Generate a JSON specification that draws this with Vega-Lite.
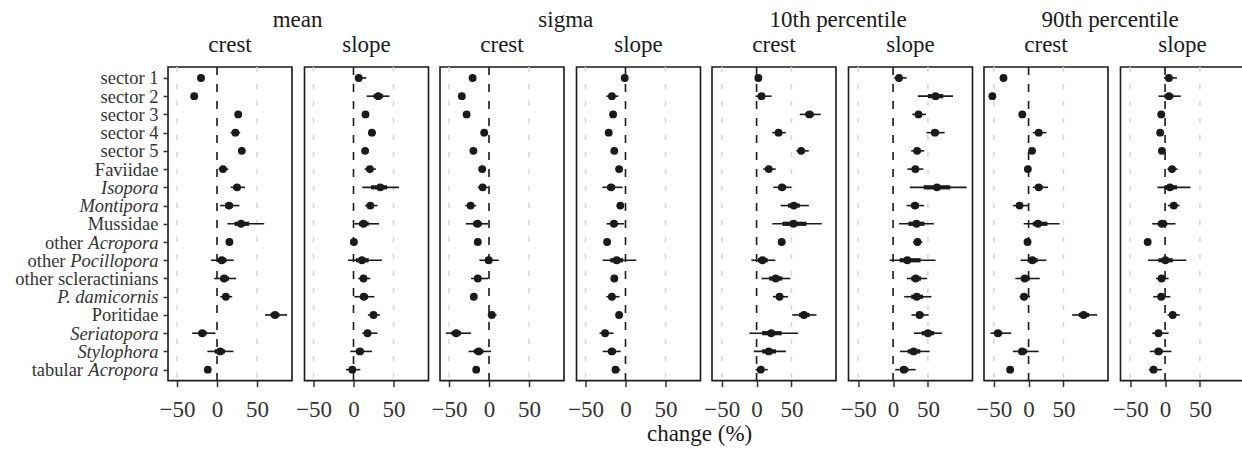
{
"$schema":"https://vega.github.io/schema/vega-lite/v6.json",
"padding":{"left":13,"top":8,"right":0,"bottom":0},
"background":"white",
"title":{"text":"change (%)","orient":"bottom","anchor":"middle","fontSize":23,"offset":1,"dx":70},
"data":{"values":[
{"stat":"mean","zone":"crest","group":"sector 1","est":-20,"lo95":-23,"hi95":-17,"lo50":-21.5,"hi50":-18.5},
{"stat":"mean","zone":"crest","group":"sector 2","est":-28.5,"lo95":-31,"hi95":-26,"lo50":-29.5,"hi50":-27.5},
{"stat":"mean","zone":"crest","group":"sector 3","est":26.5,"lo95":23,"hi95":30,"lo50":25,"hi50":28},
{"stat":"mean","zone":"crest","group":"sector 4","est":23,"lo95":17,"hi95":29,"lo50":20.5,"hi50":25.5},
{"stat":"mean","zone":"crest","group":"sector 5","est":31,"lo95":28,"hi95":34,"lo50":29.5,"hi50":32.5},
{"stat":"mean","zone":"crest","group":"Faviidae","est":7.5,"lo95":2,"hi95":14,"lo50":5,"hi50":10},
{"stat":"mean","zone":"crest","group":"Isopora","est":25,"lo95":17,"hi95":35,"lo50":21,"hi50":29},
{"stat":"mean","zone":"crest","group":"Montipora","est":15,"lo95":4,"hi95":28,"lo50":10,"hi50":20},
{"stat":"mean","zone":"crest","group":"Mussidae","est":30,"lo95":13,"hi95":59,"lo50":22,"hi50":40},
{"stat":"mean","zone":"crest","group":"other Acropora","est":15.5,"lo95":13,"hi95":18,"lo50":14.5,"hi50":16.5},
{"stat":"mean","zone":"crest","group":"other Pocillopora","est":6,"lo95":-7.5,"hi95":21,"lo50":1,"hi50":12},
{"stat":"mean","zone":"crest","group":"other scleractinians","est":9,"lo95":-3.5,"hi95":24,"lo50":4,"hi50":15},
{"stat":"mean","zone":"crest","group":"P. damicornis","est":11,"lo95":4,"hi95":19,"lo50":8,"hi50":14},
{"stat":"mean","zone":"crest","group":"Poritidae","est":72.5,"lo95":60,"hi95":87.5,"lo50":67,"hi50":78},
{"stat":"mean","zone":"crest","group":"Seriatopora","est":-18.5,"lo95":-31,"hi95":-2,"lo50":-23,"hi50":-13},
{"stat":"mean","zone":"crest","group":"Stylophora","est":4,"lo95":-12,"hi95":20.5,"lo50":-3,"hi50":10},
{"stat":"mean","zone":"crest","group":"tabular Acropora","est":-11.5,"lo95":-14,"hi95":-9,"lo50":-12.5,"hi50":-10.5},
{"stat":"mean","zone":"slope","group":"sector 1","est":6.5,"lo95":2,"hi95":16,"lo50":4,"hi50":10},
{"stat":"mean","zone":"slope","group":"sector 2","est":31,"lo95":16.5,"hi95":45,"lo50":25,"hi50":37},
{"stat":"mean","zone":"slope","group":"sector 3","est":15,"lo95":10.5,"hi95":19,"lo50":13,"hi50":17},
{"stat":"mean","zone":"slope","group":"sector 4","est":23,"lo95":18,"hi95":28,"lo50":21,"hi50":25},
{"stat":"mean","zone":"slope","group":"sector 5","est":14.5,"lo95":11.5,"hi95":17.5,"lo50":13,"hi50":16},
{"stat":"mean","zone":"slope","group":"Faviidae","est":20.5,"lo95":14,"hi95":28,"lo50":17.5,"hi50":23.5},
{"stat":"mean","zone":"slope","group":"Isopora","est":33.5,"lo95":11,"hi95":57,"lo50":22,"hi50":42},
{"stat":"mean","zone":"slope","group":"Montipora","est":21,"lo95":14.5,"hi95":30,"lo50":18,"hi50":24.5},
{"stat":"mean","zone":"slope","group":"Mussidae","est":12.5,"lo95":1,"hi95":32,"lo50":7,"hi50":19},
{"stat":"mean","zone":"slope","group":"other Acropora","est":0.5,"lo95":-1.5,"hi95":3,"lo50":0,"hi50":1.5},
{"stat":"mean","zone":"slope","group":"other Pocillopora","est":10.5,"lo95":-7,"hi95":35.5,"lo50":3,"hi50":19},
{"stat":"mean","zone":"slope","group":"other scleractinians","est":12.5,"lo95":6,"hi95":21,"lo50":9.5,"hi50":16},
{"stat":"mean","zone":"slope","group":"P. damicornis","est":13,"lo95":1,"hi95":26,"lo50":8,"hi50":18},
{"stat":"mean","zone":"slope","group":"Poritidae","est":25,"lo95":18,"hi95":33,"lo50":21.5,"hi50":28.5},
{"stat":"mean","zone":"slope","group":"Seriatopora","est":17.5,"lo95":11,"hi95":30,"lo50":14,"hi50":22},
{"stat":"mean","zone":"slope","group":"Stylophora","est":8,"lo95":-4,"hi95":23,"lo50":3,"hi50":13},
{"stat":"mean","zone":"slope","group":"tabular Acropora","est":-1.5,"lo95":-9.5,"hi95":8.5,"lo50":-5,"hi50":2.5},
{"stat":"sigma","zone":"crest","group":"sector 1","est":-20.5,"lo95":-23,"hi95":-18,"lo50":-21.5,"hi50":-19.5},
{"stat":"sigma","zone":"crest","group":"sector 2","est":-34,"lo95":-37,"hi95":-31.5,"lo50":-35,"hi50":-33},
{"stat":"sigma","zone":"crest","group":"sector 3","est":-28,"lo95":-30.5,"hi95":-25.5,"lo50":-29,"hi50":-27},
{"stat":"sigma","zone":"crest","group":"sector 4","est":-6,"lo95":-10,"hi95":-2,"lo50":-8,"hi50":-4},
{"stat":"sigma","zone":"crest","group":"sector 5","est":-19.5,"lo95":-22,"hi95":-17,"lo50":-20.5,"hi50":-18.5},
{"stat":"sigma","zone":"crest","group":"Faviidae","est":-8.5,"lo95":-11,"hi95":-6,"lo50":-9.5,"hi50":-7.5},
{"stat":"sigma","zone":"crest","group":"Isopora","est":-8,"lo95":-14,"hi95":-1.5,"lo50":-11,"hi50":-5},
{"stat":"sigma","zone":"crest","group":"Montipora","est":-23,"lo95":-29.5,"hi95":-16,"lo50":-26,"hi50":-20},
{"stat":"sigma","zone":"crest","group":"Mussidae","est":-14.5,"lo95":-29,"hi95":-1,"lo50":-20,"hi50":-9},
{"stat":"sigma","zone":"crest","group":"other Acropora","est":-14,"lo95":-16.5,"hi95":-11.5,"lo50":-15,"hi50":-13},
{"stat":"sigma","zone":"crest","group":"other Pocillopora","est":-0.5,"lo95":-12,"hi95":12,"lo50":-5,"hi50":4},
{"stat":"sigma","zone":"crest","group":"other scleractinians","est":-14,"lo95":-22.5,"hi95":-1,"lo50":-18,"hi50":-10},
{"stat":"sigma","zone":"crest","group":"P. damicornis","est":-19,"lo95":-21.5,"hi95":-16.5,"lo50":-20,"hi50":-18},
{"stat":"sigma","zone":"crest","group":"Poritidae","est":3.5,"lo95":-1.5,"hi95":9.5,"lo50":1,"hi50":6},
{"stat":"sigma","zone":"crest","group":"Seriatopora","est":-41,"lo95":-54,"hi95":-22.5,"lo50":-47,"hi50":-35},
{"stat":"sigma","zone":"crest","group":"Stylophora","est":-13,"lo95":-25.5,"hi95":2.5,"lo50":-19,"hi50":-7},
{"stat":"sigma","zone":"crest","group":"tabular Acropora","est":-16,"lo95":-18.5,"hi95":-13.5,"lo50":-17,"hi50":-15},
{"stat":"sigma","zone":"slope","group":"sector 1","est":-1,"lo95":-3,"hi95":1,"lo50":-2,"hi50":0},
{"stat":"sigma","zone":"slope","group":"sector 2","est":-17,"lo95":-24,"hi95":-9,"lo50":-20,"hi50":-14},
{"stat":"sigma","zone":"slope","group":"sector 3","est":-15.5,"lo95":-18,"hi95":-13,"lo50":-16.5,"hi50":-14.5},
{"stat":"sigma","zone":"slope","group":"sector 4","est":-21,"lo95":-23.5,"hi95":-18.5,"lo50":-22,"hi50":-20},
{"stat":"sigma","zone":"slope","group":"sector 5","est":-14,"lo95":-16.5,"hi95":-11.5,"lo50":-15,"hi50":-13},
{"stat":"sigma","zone":"slope","group":"Faviidae","est":-8,"lo95":-10.5,"hi95":-5.5,"lo50":-9,"hi50":-7},
{"stat":"sigma","zone":"slope","group":"Isopora","est":-18,"lo95":-29,"hi95":-3.5,"lo50":-23,"hi50":-13},
{"stat":"sigma","zone":"slope","group":"Montipora","est":-6.5,"lo95":-9,"hi95":-4,"lo50":-7.5,"hi50":-5.5},
{"stat":"sigma","zone":"slope","group":"Mussidae","est":-14.5,"lo95":-23.5,"hi95":-2,"lo50":-18.5,"hi50":-10},
{"stat":"sigma","zone":"slope","group":"other Acropora","est":-23,"lo95":-25.5,"hi95":-20.5,"lo50":-24,"hi50":-22},
{"stat":"sigma","zone":"slope","group":"other Pocillopora","est":-11,"lo95":-28.5,"hi95":13.5,"lo50":-19,"hi50":-3},
{"stat":"sigma","zone":"slope","group":"other scleractinians","est":-14,"lo95":-16.5,"hi95":-11.5,"lo50":-15,"hi50":-13},
{"stat":"sigma","zone":"slope","group":"P. damicornis","est":-17,"lo95":-24,"hi95":-7.5,"lo50":-20.5,"hi50":-13.5},
{"stat":"sigma","zone":"slope","group":"Poritidae","est":-8,"lo95":-10.5,"hi95":-5.5,"lo50":-9,"hi50":-7},
{"stat":"sigma","zone":"slope","group":"Seriatopora","est":-25.5,"lo95":-32.5,"hi95":-15,"lo50":-29,"hi50":-22},
{"stat":"sigma","zone":"slope","group":"Stylophora","est":-17,"lo95":-28.5,"hi95":-6,"lo50":-22,"hi50":-12},
{"stat":"sigma","zone":"slope","group":"tabular Acropora","est":-12.5,"lo95":-16,"hi95":-6.5,"lo50":-14,"hi50":-10.5},
{"stat":"p10","zone":"crest","group":"sector 1","est":2.5,"lo95":-1,"hi95":6.5,"lo50":1,"hi50":4},
{"stat":"p10","zone":"crest","group":"sector 2","est":7,"lo95":-1.5,"hi95":21.5,"lo50":3,"hi50":12},
{"stat":"p10","zone":"crest","group":"sector 3","est":76,"lo95":62,"hi95":92,"lo50":70,"hi50":82},
{"stat":"p10","zone":"crest","group":"sector 4","est":31.5,"lo95":22.5,"hi95":42,"lo50":27,"hi50":36},
{"stat":"p10","zone":"crest","group":"sector 5","est":64,"lo95":57,"hi95":75,"lo50":60.5,"hi50":68.5},
{"stat":"p10","zone":"crest","group":"Faviidae","est":17.5,"lo95":9.5,"hi95":27.5,"lo50":14,"hi50":21.5},
{"stat":"p10","zone":"crest","group":"Isopora","est":36.5,"lo95":24,"hi95":50,"lo50":31,"hi50":42.5},
{"stat":"p10","zone":"crest","group":"Montipora","est":53.5,"lo95":34.5,"hi95":75,"lo50":45,"hi50":62},
{"stat":"p10","zone":"crest","group":"Mussidae","est":53,"lo95":22.5,"hi95":93.5,"lo50":37,"hi50":71.5},
{"stat":"p10","zone":"crest","group":"other Acropora","est":36,"lo95":31,"hi95":41.5,"lo50":34,"hi50":38.5},
{"stat":"p10","zone":"crest","group":"other Pocillopora","est":8.5,"lo95":-7.5,"hi95":27,"lo50":2,"hi50":16},
{"stat":"p10","zone":"crest","group":"other scleractinians","est":27.5,"lo95":7,"hi95":48.5,"lo50":18,"hi50":37},
{"stat":"p10","zone":"crest","group":"P. damicornis","est":33,"lo95":23.5,"hi95":45,"lo50":29,"hi50":38},
{"stat":"p10","zone":"crest","group":"Poritidae","est":68,"lo95":51,"hi95":86,"lo50":61,"hi50":76},
{"stat":"p10","zone":"crest","group":"Seriatopora","est":21,"lo95":-10.5,"hi95":59.5,"lo50":8,"hi50":36},
{"stat":"p10","zone":"crest","group":"Stylophora","est":17.5,"lo95":-4,"hi95":42,"lo50":8,"hi50":28},
{"stat":"p10","zone":"crest","group":"tabular Acropora","est":6,"lo95":-1.5,"hi95":16,"lo50":2.5,"hi50":10},
{"stat":"p10","zone":"slope","group":"sector 1","est":8.5,"lo95":1.5,"hi95":19.5,"lo50":5,"hi50":13},
{"stat":"p10","zone":"slope","group":"sector 2","est":61,"lo95":35.5,"hi95":86,"lo50":50,"hi50":72},
{"stat":"p10","zone":"slope","group":"sector 3","est":36.5,"lo95":27.5,"hi95":47,"lo50":32.5,"hi50":41},
{"stat":"p10","zone":"slope","group":"sector 4","est":60,"lo95":48,"hi95":74,"lo50":55,"hi50":66},
{"stat":"p10","zone":"slope","group":"sector 5","est":34.5,"lo95":26,"hi95":44.5,"lo50":30.5,"hi50":39},
{"stat":"p10","zone":"slope","group":"Faviidae","est":32,"lo95":20.5,"hi95":43.5,"lo50":27,"hi50":37},
{"stat":"p10","zone":"slope","group":"Isopora","est":63,"lo95":24,"hi95":105.5,"lo50":44,"hi50":82},
{"stat":"p10","zone":"slope","group":"Montipora","est":31.5,"lo95":19.5,"hi95":44.5,"lo50":26,"hi50":37},
{"stat":"p10","zone":"slope","group":"Mussidae","est":33.5,"lo95":8.5,"hi95":58.5,"lo50":22,"hi50":45},
{"stat":"p10","zone":"slope","group":"other Acropora","est":35,"lo95":28.5,"hi95":42,"lo50":32,"hi50":38.5},
{"stat":"p10","zone":"slope","group":"other Pocillopora","est":20.5,"lo95":-5,"hi95":61,"lo50":9.5,"hi50":39.5},
{"stat":"p10","zone":"slope","group":"other scleractinians","est":32.5,"lo95":20,"hi95":49,"lo50":26,"hi50":40},
{"stat":"p10","zone":"slope","group":"P. damicornis","est":34,"lo95":16,"hi95":55,"lo50":26,"hi50":43},
{"stat":"p10","zone":"slope","group":"Poritidae","est":38,"lo95":26.5,"hi95":51,"lo50":33,"hi50":43.5},
{"stat":"p10","zone":"slope","group":"Seriatopora","est":50,"lo95":30,"hi95":70,"lo50":41,"hi50":59},
{"stat":"p10","zone":"slope","group":"Stylophora","est":29.5,"lo95":10,"hi95":52.5,"lo50":21,"hi50":39},
{"stat":"p10","zone":"slope","group":"tabular Acropora","est":15.5,"lo95":3,"hi95":32.5,"lo50":10,"hi50":22},
{"stat":"p90","zone":"crest","group":"sector 1","est":-36,"lo95":-38.5,"hi95":-33.5,"lo50":-37,"hi50":-35},
{"stat":"p90","zone":"crest","group":"sector 2","est":-52,"lo95":-54.5,"hi95":-49.5,"lo50":-53,"hi50":-51},
{"stat":"p90","zone":"crest","group":"sector 3","est":-9,"lo95":-13,"hi95":-4.5,"lo50":-11,"hi50":-7},
{"stat":"p90","zone":"crest","group":"sector 4","est":14.5,"lo95":6,"hi95":25.5,"lo50":10.5,"hi50":19},
{"stat":"p90","zone":"crest","group":"sector 5","est":5,"lo95":2,"hi95":8,"lo50":3.5,"hi50":6.5},
{"stat":"p90","zone":"crest","group":"Faviidae","est":-1,"lo95":-4,"hi95":2,"lo50":-2.5,"hi50":0.5},
{"stat":"p90","zone":"crest","group":"Isopora","est":14.5,"lo95":6,"hi95":28,"lo50":10,"hi50":20},
{"stat":"p90","zone":"crest","group":"Montipora","est":-13,"lo95":-22.5,"hi95":0.5,"lo50":-17.5,"hi50":-8},
{"stat":"p90","zone":"crest","group":"Mussidae","est":13.5,"lo95":-7,"hi95":44.5,"lo50":6,"hi50":27},
{"stat":"p90","zone":"crest","group":"other Acropora","est":-1.5,"lo95":-4,"hi95":1,"lo50":-2.5,"hi50":-0.5},
{"stat":"p90","zone":"crest","group":"other Pocillopora","est":5.5,"lo95":-11.5,"hi95":25.5,"lo50":-1,"hi50":13},
{"stat":"p90","zone":"crest","group":"other scleractinians","est":-5.5,"lo95":-19,"hi95":16,"lo50":-11,"hi50":2},
{"stat":"p90","zone":"crest","group":"P. damicornis","est":-6.5,"lo95":-13,"hi95":2,"lo50":-9.5,"hi50":-3.5},
{"stat":"p90","zone":"crest","group":"Poritidae","est":79,"lo95":62.5,"hi95":98.5,"lo50":72,"hi50":87},
{"stat":"p90","zone":"crest","group":"Seriatopora","est":-44,"lo95":-54.5,"hi95":-25,"lo50":-49,"hi50":-38},
{"stat":"p90","zone":"crest","group":"Stylophora","est":-9,"lo95":-22.5,"hi95":14.5,"lo50":-15,"hi50":-2},
{"stat":"p90","zone":"crest","group":"tabular Acropora","est":-26.5,"lo95":-29,"hi95":-24,"lo50":-27.5,"hi50":-25.5},
{"stat":"p90","zone":"slope","group":"sector 1","est":5.5,"lo95":-1.5,"hi95":17,"lo50":2,"hi50":9.5},
{"stat":"p90","zone":"slope","group":"sector 2","est":5.5,"lo95":-9.5,"hi95":22.5,"lo50":-1,"hi50":12},
{"stat":"p90","zone":"slope","group":"sector 3","est":-5.5,"lo95":-8,"hi95":-3,"lo50":-6.5,"hi50":-4.5},
{"stat":"p90","zone":"slope","group":"sector 4","est":-7,"lo95":-9.5,"hi95":-4.5,"lo50":-8,"hi50":-6},
{"stat":"p90","zone":"slope","group":"sector 5","est":-4.5,"lo95":-7,"hi95":-2,"lo50":-5.5,"hi50":-3.5},
{"stat":"p90","zone":"slope","group":"Faviidae","est":10,"lo95":3.5,"hi95":18,"lo50":7,"hi50":13},
{"stat":"p90","zone":"slope","group":"Isopora","est":7,"lo95":-11,"hi95":36.5,"lo50":-1,"hi50":17},
{"stat":"p90","zone":"slope","group":"Montipora","est":12.5,"lo95":4,"hi95":21,"lo50":8.5,"hi50":16.5},
{"stat":"p90","zone":"slope","group":"Mussidae","est":-4.5,"lo95":-18.5,"hi95":15,"lo50":-10.5,"hi50":3},
{"stat":"p90","zone":"slope","group":"other Acropora","est":-25,"lo95":-27.5,"hi95":-22.5,"lo50":-26,"hi50":-24},
{"stat":"p90","zone":"slope","group":"other Pocillopora","est":0.5,"lo95":-24.5,"hi95":30.5,"lo50":-9.5,"hi50":11},
{"stat":"p90","zone":"slope","group":"other scleractinians","est":-5,"lo95":-13,"hi95":5,"lo50":-8.5,"hi50":-1},
{"stat":"p90","zone":"slope","group":"P. damicornis","est":-5.5,"lo95":-17,"hi95":7.5,"lo50":-10.5,"hi50":-0.5},
{"stat":"p90","zone":"slope","group":"Poritidae","est":11,"lo95":3.5,"hi95":21,"lo50":7.5,"hi50":14.5},
{"stat":"p90","zone":"slope","group":"Seriatopora","est":-9.5,"lo95":-18.5,"hi95":5,"lo50":-13.5,"hi50":-5},
{"stat":"p90","zone":"slope","group":"Stylophora","est":-9.5,"lo95":-22,"hi95":9,"lo50":-15,"hi50":-3.5},
{"stat":"p90","zone":"slope","group":"tabular Acropora","est":-16.5,"lo95":-23.5,"hi95":-4.5,"lo50":-20,"hi50":-12.5}
]},
"spacing":0,
"hconcat":[
{"title":{"text":"mean","offset":2,"dx":76},"spacing":1.5,"hconcat":[
 {"title":"crest","width":124,"height":313.6,"resolve":{"axis":{"y":"independent"}},"layer":[
  {"data":{"values":[{"ref":-50},{"ref":50}]},"mark":{"type":"rule","color":"#d9d9d9","strokeWidth":1.6,"strokeDash":[5,12]},"encoding":{"x":{"field":"ref","type":"quantitative","scale":{"domain":[-61.25,93.75],"nice":false,"zero":false},"axis":{"title":null,"values":[-50,0,50]}}}},
  {"data":{"values":[{"ref":0}]},"mark":{"type":"rule","color":"#1a1a1a","strokeWidth":1.6,"strokeDash":[8,9]},"encoding":{"x":{"field":"ref","type":"quantitative","axis":{"title":null,"values":[-50,0,50]}}}},
  {"transform":[{"filter":"datum.stat=='mean' && datum.zone=='crest'"}],"mark":{"type":"rule","color":"#1a1a1a","strokeWidth":1.6},"encoding":{
    "y":{"field":"group","type":"nominal","scale":{"type":"point","padding":0.6,"domain":["sector 1","sector 2","sector 3","sector 4","sector 5","Faviidae","Isopora","Montipora","Mussidae","other Acropora","other Pocillopora","other scleractinians","P. damicornis","Poritidae","Seriatopora","Stylophora","tabular Acropora"]},
      "axis":{"title":null,"orient":"left","labelExpr":"datum.value == 'other Acropora' ? 'other' : datum.value == 'tabular Acropora' ? 'tabular' : ''","tickColor":"transparent","labelPadding":80.5}},
    "x":{"field":"lo95","type":"quantitative","axis":{"title":null,"values":[-50,0,50]}},"x2":{"field":"hi95"}}},
  {"transform":[{"filter":"datum.stat=='mean' && datum.zone=='crest'"}],"mark":{"type":"rule","color":"#1a1a1a","strokeWidth":4.2},"encoding":{
    "y":{"field":"group","type":"nominal","axis":{"title":null,"orient":"left","labelExpr":"datum.value == 'other Pocillopora' ? 'other' : ''","tickColor":"transparent","labelPadding":98}},
    "x":{"field":"lo50","type":"quantitative","axis":{"title":null,"values":[-50,0,50]}},"x2":{"field":"hi50"}}},
  {"transform":[{"filter":"datum.stat=='mean' && datum.zone=='crest'"}],"mark":{"type":"circle","size":62,"opacity":1,"color":"#1a1a1a"},"encoding":{
    "y":{"field":"group","type":"nominal","axis":{"title":null,"orient":"left","labelExpr":"datum.value == 'other Acropora' || datum.value == 'tabular Acropora' ? 'Acropora' : datum.value == 'other Pocillopora' ? 'Pocillopora' : datum.label","labelFontStyle":{"condition":{"test":"indexof(['Isopora','Montipora','other Acropora','other Pocillopora','P. damicornis','Seriatopora','Stylophora','tabular Acropora'], datum.value) >= 0","value":"italic"},"value":"normal"}}},
    "x":{"field":"est","type":"quantitative","axis":{"title":null,"values":[-50,0,50]}}}}
 ]},
 {"title":"slope","width":124,"height":313.6,"layer":[
  {"data":{"values":[{"ref":-50},{"ref":50}]},"mark":{"type":"rule","color":"#d9d9d9","strokeWidth":1.6,"strokeDash":[5,12]},"encoding":{"x":{"field":"ref","type":"quantitative","scale":{"domain":[-61.25,93.75],"nice":false,"zero":false},"axis":{"title":null,"values":[-50,0,50]}}}},
  {"data":{"values":[{"ref":0}]},"mark":{"type":"rule","color":"#1a1a1a","strokeWidth":1.6,"strokeDash":[8,9]},"encoding":{"x":{"field":"ref","type":"quantitative","axis":{"title":null,"values":[-50,0,50]}}}},
  {"transform":[{"filter":"datum.stat=='mean' && datum.zone=='slope'"}],"mark":{"type":"rule","color":"#1a1a1a","strokeWidth":1.6},"encoding":{
    "y":{"field":"group","type":"nominal","scale":{"type":"point","padding":0.6,"domain":["sector 1","sector 2","sector 3","sector 4","sector 5","Faviidae","Isopora","Montipora","Mussidae","other Acropora","other Pocillopora","other scleractinians","P. damicornis","Poritidae","Seriatopora","Stylophora","tabular Acropora"]},"axis":null},
    "x":{"field":"lo95","type":"quantitative","axis":{"title":null,"values":[-50,0,50]}},"x2":{"field":"hi95"}}},
  {"transform":[{"filter":"datum.stat=='mean' && datum.zone=='slope'"}],"mark":{"type":"rule","color":"#1a1a1a","strokeWidth":4.2},"encoding":{
    "y":{"field":"group","type":"nominal","axis":null},
    "x":{"field":"lo50","type":"quantitative","axis":{"title":null,"values":[-50,0,50]}},"x2":{"field":"hi50"}}},
  {"transform":[{"filter":"datum.stat=='mean' && datum.zone=='slope'"}],"mark":{"type":"circle","size":62,"opacity":1,"color":"#1a1a1a"},"encoding":{
    "y":{"field":"group","type":"nominal","axis":null},
    "x":{"field":"est","type":"quantitative","axis":{"title":null,"values":[-50,0,50]}}}}
 ]}
]},
{"title":{"text":"sigma","offset":2},"spacing":1.5,"hconcat":[
 {"title":"crest","width":124,"height":313.6,"layer":[
  {"data":{"values":[{"ref":-50},{"ref":50}]},"mark":{"type":"rule","color":"#d9d9d9","strokeWidth":1.6,"strokeDash":[5,12]},"encoding":{"x":{"field":"ref","type":"quantitative","scale":{"domain":[-61.25,93.75],"nice":false,"zero":false},"axis":{"title":null,"values":[-50,0,50]}}}},
  {"data":{"values":[{"ref":0}]},"mark":{"type":"rule","color":"#1a1a1a","strokeWidth":1.6,"strokeDash":[8,9]},"encoding":{"x":{"field":"ref","type":"quantitative","axis":{"title":null,"values":[-50,0,50]}}}},
  {"transform":[{"filter":"datum.stat=='sigma' && datum.zone=='crest'"}],"mark":{"type":"rule","color":"#1a1a1a","strokeWidth":1.6},"encoding":{
    "y":{"field":"group","type":"nominal","scale":{"type":"point","padding":0.6,"domain":["sector 1","sector 2","sector 3","sector 4","sector 5","Faviidae","Isopora","Montipora","Mussidae","other Acropora","other Pocillopora","other scleractinians","P. damicornis","Poritidae","Seriatopora","Stylophora","tabular Acropora"]},"axis":null},
    "x":{"field":"lo95","type":"quantitative","axis":{"title":null,"values":[-50,0,50]}},"x2":{"field":"hi95"}}},
  {"transform":[{"filter":"datum.stat=='sigma' && datum.zone=='crest'"}],"mark":{"type":"rule","color":"#1a1a1a","strokeWidth":4.2},"encoding":{
    "y":{"field":"group","type":"nominal","axis":null},
    "x":{"field":"lo50","type":"quantitative","axis":{"title":null,"values":[-50,0,50]}},"x2":{"field":"hi50"}}},
  {"transform":[{"filter":"datum.stat=='sigma' && datum.zone=='crest'"}],"mark":{"type":"circle","size":62,"opacity":1,"color":"#1a1a1a"},"encoding":{
    "y":{"field":"group","type":"nominal","axis":null},
    "x":{"field":"est","type":"quantitative","axis":{"title":null,"values":[-50,0,50]}}}}
 ]},
 {"title":"slope","width":124,"height":313.6,"layer":[
  {"data":{"values":[{"ref":-50},{"ref":50}]},"mark":{"type":"rule","color":"#d9d9d9","strokeWidth":1.6,"strokeDash":[5,12]},"encoding":{"x":{"field":"ref","type":"quantitative","scale":{"domain":[-61.25,93.75],"nice":false,"zero":false},"axis":{"title":null,"values":[-50,0,50]}}}},
  {"data":{"values":[{"ref":0}]},"mark":{"type":"rule","color":"#1a1a1a","strokeWidth":1.6,"strokeDash":[8,9]},"encoding":{"x":{"field":"ref","type":"quantitative","axis":{"title":null,"values":[-50,0,50]}}}},
  {"transform":[{"filter":"datum.stat=='sigma' && datum.zone=='slope'"}],"mark":{"type":"rule","color":"#1a1a1a","strokeWidth":1.6},"encoding":{
    "y":{"field":"group","type":"nominal","scale":{"type":"point","padding":0.6,"domain":["sector 1","sector 2","sector 3","sector 4","sector 5","Faviidae","Isopora","Montipora","Mussidae","other Acropora","other Pocillopora","other scleractinians","P. damicornis","Poritidae","Seriatopora","Stylophora","tabular Acropora"]},"axis":null},
    "x":{"field":"lo95","type":"quantitative","axis":{"title":null,"values":[-50,0,50]}},"x2":{"field":"hi95"}}},
  {"transform":[{"filter":"datum.stat=='sigma' && datum.zone=='slope'"}],"mark":{"type":"rule","color":"#1a1a1a","strokeWidth":4.2},"encoding":{
    "y":{"field":"group","type":"nominal","axis":null},
    "x":{"field":"lo50","type":"quantitative","axis":{"title":null,"values":[-50,0,50]}},"x2":{"field":"hi50"}}},
  {"transform":[{"filter":"datum.stat=='sigma' && datum.zone=='slope'"}],"mark":{"type":"circle","size":62,"opacity":1,"color":"#1a1a1a"},"encoding":{
    "y":{"field":"group","type":"nominal","axis":null},
    "x":{"field":"est","type":"quantitative","axis":{"title":null,"values":[-50,0,50]}}}}
 ]}
]},
{"title":{"text":"10th percentile","offset":2},"spacing":1.5,"hconcat":[
 {"title":"crest","width":124,"height":313.6,"layer":[
  {"data":{"values":[{"ref":-50},{"ref":50}]},"mark":{"type":"rule","color":"#d9d9d9","strokeWidth":1.6,"strokeDash":[5,12]},"encoding":{"x":{"field":"ref","type":"quantitative","scale":{"domain":[-64,114],"nice":false,"zero":false},"axis":{"title":null,"values":[-50,0,50]}}}},
  {"data":{"values":[{"ref":0}]},"mark":{"type":"rule","color":"#1a1a1a","strokeWidth":1.6,"strokeDash":[8,9]},"encoding":{"x":{"field":"ref","type":"quantitative","axis":{"title":null,"values":[-50,0,50]}}}},
  {"transform":[{"filter":"datum.stat=='p10' && datum.zone=='crest'"}],"mark":{"type":"rule","color":"#1a1a1a","strokeWidth":1.6},"encoding":{
    "y":{"field":"group","type":"nominal","scale":{"type":"point","padding":0.6,"domain":["sector 1","sector 2","sector 3","sector 4","sector 5","Faviidae","Isopora","Montipora","Mussidae","other Acropora","other Pocillopora","other scleractinians","P. damicornis","Poritidae","Seriatopora","Stylophora","tabular Acropora"]},"axis":null},
    "x":{"field":"lo95","type":"quantitative","axis":{"title":null,"values":[-50,0,50]}},"x2":{"field":"hi95"}}},
  {"transform":[{"filter":"datum.stat=='p10' && datum.zone=='crest'"}],"mark":{"type":"rule","color":"#1a1a1a","strokeWidth":4.2},"encoding":{
    "y":{"field":"group","type":"nominal","axis":null},
    "x":{"field":"lo50","type":"quantitative","axis":{"title":null,"values":[-50,0,50]}},"x2":{"field":"hi50"}}},
  {"transform":[{"filter":"datum.stat=='p10' && datum.zone=='crest'"}],"mark":{"type":"circle","size":62,"opacity":1,"color":"#1a1a1a"},"encoding":{
    "y":{"field":"group","type":"nominal","axis":null},
    "x":{"field":"est","type":"quantitative","axis":{"title":null,"values":[-50,0,50]}}}}
 ]},
 {"title":"slope","width":124,"height":313.6,"layer":[
  {"data":{"values":[{"ref":-50},{"ref":50}]},"mark":{"type":"rule","color":"#d9d9d9","strokeWidth":1.6,"strokeDash":[5,12]},"encoding":{"x":{"field":"ref","type":"quantitative","scale":{"domain":[-64,114],"nice":false,"zero":false},"axis":{"title":null,"values":[-50,0,50]}}}},
  {"data":{"values":[{"ref":0}]},"mark":{"type":"rule","color":"#1a1a1a","strokeWidth":1.6,"strokeDash":[8,9]},"encoding":{"x":{"field":"ref","type":"quantitative","axis":{"title":null,"values":[-50,0,50]}}}},
  {"transform":[{"filter":"datum.stat=='p10' && datum.zone=='slope'"}],"mark":{"type":"rule","color":"#1a1a1a","strokeWidth":1.6},"encoding":{
    "y":{"field":"group","type":"nominal","scale":{"type":"point","padding":0.6,"domain":["sector 1","sector 2","sector 3","sector 4","sector 5","Faviidae","Isopora","Montipora","Mussidae","other Acropora","other Pocillopora","other scleractinians","P. damicornis","Poritidae","Seriatopora","Stylophora","tabular Acropora"]},"axis":null},
    "x":{"field":"lo95","type":"quantitative","axis":{"title":null,"values":[-50,0,50]}},"x2":{"field":"hi95"}}},
  {"transform":[{"filter":"datum.stat=='p10' && datum.zone=='slope'"}],"mark":{"type":"rule","color":"#1a1a1a","strokeWidth":4.2},"encoding":{
    "y":{"field":"group","type":"nominal","axis":null},
    "x":{"field":"lo50","type":"quantitative","axis":{"title":null,"values":[-50,0,50]}},"x2":{"field":"hi50"}}},
  {"transform":[{"filter":"datum.stat=='p10' && datum.zone=='slope'"}],"mark":{"type":"circle","size":62,"opacity":1,"color":"#1a1a1a"},"encoding":{
    "y":{"field":"group","type":"nominal","axis":null},
    "x":{"field":"est","type":"quantitative","axis":{"title":null,"values":[-50,0,50]}}}}
 ]}
]},
{"title":{"text":"90th percentile","offset":2},"spacing":1.5,"hconcat":[
 {"title":"crest","width":124,"height":313.6,"layer":[
  {"data":{"values":[{"ref":-50},{"ref":50}]},"mark":{"type":"rule","color":"#d9d9d9","strokeWidth":1.6,"strokeDash":[5,12]},"encoding":{"x":{"field":"ref","type":"quantitative","scale":{"domain":[-64,114],"nice":false,"zero":false},"axis":{"title":null,"values":[-50,0,50]}}}},
  {"data":{"values":[{"ref":0}]},"mark":{"type":"rule","color":"#1a1a1a","strokeWidth":1.6,"strokeDash":[8,9]},"encoding":{"x":{"field":"ref","type":"quantitative","axis":{"title":null,"values":[-50,0,50]}}}},
  {"transform":[{"filter":"datum.stat=='p90' && datum.zone=='crest'"}],"mark":{"type":"rule","color":"#1a1a1a","strokeWidth":1.6},"encoding":{
    "y":{"field":"group","type":"nominal","scale":{"type":"point","padding":0.6,"domain":["sector 1","sector 2","sector 3","sector 4","sector 5","Faviidae","Isopora","Montipora","Mussidae","other Acropora","other Pocillopora","other scleractinians","P. damicornis","Poritidae","Seriatopora","Stylophora","tabular Acropora"]},"axis":null},
    "x":{"field":"lo95","type":"quantitative","axis":{"title":null,"values":[-50,0,50]}},"x2":{"field":"hi95"}}},
  {"transform":[{"filter":"datum.stat=='p90' && datum.zone=='crest'"}],"mark":{"type":"rule","color":"#1a1a1a","strokeWidth":4.2},"encoding":{
    "y":{"field":"group","type":"nominal","axis":null},
    "x":{"field":"lo50","type":"quantitative","axis":{"title":null,"values":[-50,0,50]}},"x2":{"field":"hi50"}}},
  {"transform":[{"filter":"datum.stat=='p90' && datum.zone=='crest'"}],"mark":{"type":"circle","size":62,"opacity":1,"color":"#1a1a1a"},"encoding":{
    "y":{"field":"group","type":"nominal","axis":null},
    "x":{"field":"est","type":"quantitative","axis":{"title":null,"values":[-50,0,50]}}}}
 ]},
 {"title":"slope","width":124,"height":313.6,"layer":[
  {"data":{"values":[{"ref":-50},{"ref":50}]},"mark":{"type":"rule","color":"#d9d9d9","strokeWidth":1.6,"strokeDash":[5,12]},"encoding":{"x":{"field":"ref","type":"quantitative","scale":{"domain":[-64,114],"nice":false,"zero":false},"axis":{"title":null,"values":[-50,0,50]}}}},
  {"data":{"values":[{"ref":0}]},"mark":{"type":"rule","color":"#1a1a1a","strokeWidth":1.6,"strokeDash":[8,9]},"encoding":{"x":{"field":"ref","type":"quantitative","axis":{"title":null,"values":[-50,0,50]}}}},
  {"transform":[{"filter":"datum.stat=='p90' && datum.zone=='slope'"}],"mark":{"type":"rule","color":"#1a1a1a","strokeWidth":1.6},"encoding":{
    "y":{"field":"group","type":"nominal","scale":{"type":"point","padding":0.6,"domain":["sector 1","sector 2","sector 3","sector 4","sector 5","Faviidae","Isopora","Montipora","Mussidae","other Acropora","other Pocillopora","other scleractinians","P. damicornis","Poritidae","Seriatopora","Stylophora","tabular Acropora"]},"axis":null},
    "x":{"field":"lo95","type":"quantitative","axis":{"title":null,"values":[-50,0,50]}},"x2":{"field":"hi95"}}},
  {"transform":[{"filter":"datum.stat=='p90' && datum.zone=='slope'"}],"mark":{"type":"rule","color":"#1a1a1a","strokeWidth":4.2},"encoding":{
    "y":{"field":"group","type":"nominal","axis":null},
    "x":{"field":"lo50","type":"quantitative","axis":{"title":null,"values":[-50,0,50]}},"x2":{"field":"hi50"}}},
  {"transform":[{"filter":"datum.stat=='p90' && datum.zone=='slope'"}],"mark":{"type":"circle","size":62,"opacity":1,"color":"#1a1a1a"},"encoding":{
    "y":{"field":"group","type":"nominal","axis":null},
    "x":{"field":"est","type":"quantitative","axis":{"title":null,"values":[-50,0,50]}}}}
 ]}
]}
],
"config":{
 "font":"Liberation Serif",
 "view":{"stroke":"#1a1a1a","strokeWidth":1.6},
 "title":{"fontSize":23,"fontWeight":"normal","color":"#1a1a1a","font":"Liberation Serif","anchor":"middle","offset":8.7},
 "axisX":{"grid":false,"domain":false,"tickColor":"#333","tickWidth":1.5,"tickSize":6,"labelFontSize":23,"labelColor":"#333","labelPadding":12,"labelFont":"Liberation Serif"},
 "axisY":{"grid":false,"domain":false,"tickColor":"#333","tickWidth":1.5,"tickSize":5,"labelFontSize":18.5,"labelColor":"#333","labelPadding":5,"labelOverlap":false,"labelBound":false,"labelFont":"Liberation Serif"}
}
}
